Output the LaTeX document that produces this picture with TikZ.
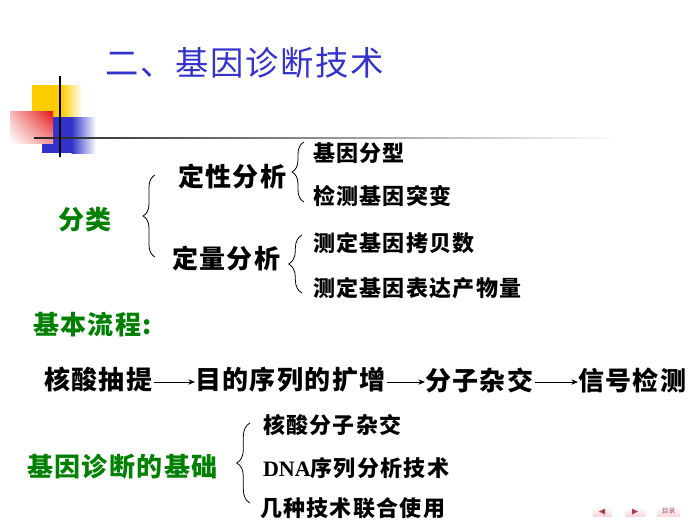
\documentclass[tikz,border=0pt]{standalone}
\usepackage{fontspec}
\setmainfont{Liberation Serif}
\newfontfamily\cjk{Noto Sans CJK SC}
\usetikzlibrary{decorations.pathreplacing,arrows.meta,shadings}
\definecolor{titleblue}{RGB}{51,51,204}
\definecolor{dgreen}{RGB}{0,128,0}
\definecolor{yel}{RGB}{255,204,0}
\definecolor{blu}{RGB}{51,51,204}
\definecolor{rd}{RGB}{230,20,20}
\definecolor{navpink}{RGB}{250,215,220}
\definecolor{navmark}{RGB}{170,60,80}
\newcommand\titlefont{\cjk\fontsize{25pt}{27pt}\selectfont\addfontfeature{LetterSpace=5}}
\newcommand\bigfont{\cjk\bfseries\fontsize{19.5pt}{21pt}\selectfont\addfontfeature{LetterSpace=5.5}}
\newcommand\smfont{\cjk\bfseries\fontsize{16.5pt}{18pt}\selectfont\addfontfeature{LetterSpace=6}}
\tikzset{
  txt/.style={anchor=west, inner sep=0pt, outer sep=0pt},
  bigtxt/.style={txt, font=\bigfont},
  smtxt/.style={txt, font=\smfont},
  greentxt/.style={bigtxt, text=dgreen},
  brc/.style={decorate, decoration={brace, amplitude=#1}, line width=0.6pt},
  arr/.style={-{Stealth[length=5pt,width=4pt]}, line width=0.6pt, shorten <=1pt}
}
\begin{document}
\begin{tikzpicture}[x=0.75pt,y=-0.75pt]
\useasboundingbox (0,0) rectangle (700,525);
% corner decoration
\fill[yel] (32,85) rectangle (62,117);
\shade[left color=yel, right color=white] (61.5,85) rectangle (82,117);
\fill[blu] (42,117) rectangle (72,153);
\shade[left color=blu, right color=white] (71.5,117) rectangle (96,153);
\shade[upper left=rd!30, upper right=rd, lower left=white, lower right=rd!45] (10,111) rectangle (53,143);
\shade[left color=black!85, middle color=gray!55, right color=white] (34,137.2) rectangle (620,138.8);
\draw[line width=1.5pt] (60,76) -- (60,157);
% title
\node[txt, font=\titlefont, text=titleblue] (title) at (105,63) {二、基因诊断技术};
% classification
\node[greentxt] (fl) at (58,220) {分类};
\node[bigtxt] (dx) at (178,176) {定性分析};
\node[bigtxt] (dl) at (172,258) {定量分析};
\node[smtxt] (a1) at (313,153) {基因分型};
\node[smtxt] (a2) at (313,196) {检测基因突变};
\node[smtxt] (b1) at (313,243) {测定基因拷贝数};
\node[smtxt] (b2) at (313,288) {测定基因表达产物量};
\coordinate (B0b) at (155,257); \coordinate (B0t) at (155,175);
\coordinate (B1b) at (304,202); \coordinate (B1t) at (304,142);
\coordinate (B2b) at (302,293); \coordinate (B2t) at (302,235);
\draw[brc=9pt] (B0b) -- (B0t);
\draw[brc=9pt] (B1b) -- (B1t);
\draw[brc=10pt] (B2b) -- (B2t);
% flow
\node[greentxt] (lc) at (33,325) {基本流程:};
\node[bigtxt] (f1) at (44,380) {核酸抽提};
\node[bigtxt] (f2) at (195,380) {目的序列的扩增};
\node[bigtxt] (f3) at (425,380) {分子杂交};
\node[bigtxt] (f4) at (578,380) {信号检测};
\draw[arr] ([yshift=-1.5pt]f1.east) -- ([yshift=-1.5pt]f2.west);
\draw[arr] ([yshift=-1.5pt]f2.east) -- ([yshift=-1.5pt]f3.west);
\draw[arr] ([yshift=-1.5pt]f3.east) -- ([yshift=-1.5pt]f4.west);
% basis
\node[greentxt] (jc) at (27,467) {基因诊断的基础};
\node[smtxt] (c1) at (263,425) {核酸分子杂交};
\node[smtxt] (c2) at (263,468) {{\rmfamily\bfseries\addfontfeature{LetterSpace=0}DNA}序列分析技术};
\node[smtxt] (c3) at (260,508) {几种技术联合使用};
\coordinate (B3b) at (250,503); \coordinate (B3t) at (250,423);
\draw[brc=10pt] (B3b) -- (B3t);
% navigation buttons
\shade[top color=white, bottom color=navpink] (593,507) rectangle (612,516);
\fill[navmark] (599,511.5) -- (605,508.5) -- (605,514.5) -- cycle;
\shade[top color=white, bottom color=navpink] (625,507) rectangle (645,516);
\fill[navmark] (638,511.5) -- (632,508.5) -- (632,514.5) -- cycle;
\shade[top color=white, bottom color=navpink] (657,507) rectangle (680,516);
\node[inner sep=0pt, font=\cjk\fontsize{5pt}{5pt}\selectfont, text=navmark!70!gray] (nav3) at (668.5,511.5) {目录};
\end{tikzpicture}
\end{document}
